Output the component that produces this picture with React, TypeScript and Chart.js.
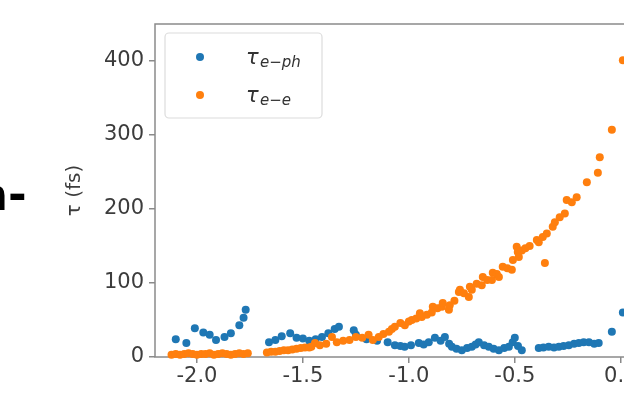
import React, { useEffect, useRef } from "react";
import { Chart, registerables } from "chart.js";

Chart.register(...registerables);

// ---- data ----
const X_TICKS = [-2.0, -1.5, -1.0, -0.5, 0.0];
const Y_TICKS = [0, 100, 200, 300, 400];

const EPH_X = [
  -2.1, -2.05, -2.01, -1.97, -1.94, -1.91, -1.87, -1.84, -1.8, -1.78, -1.77,
  -1.66, -1.63, -1.6, -1.56, -1.53, -1.5, -1.47, -1.44, -1.41, -1.38, -1.35, -1.33,
  -1.26, -1.25, -1.2, -1.15, -1.1, -1.066, -1.04, -1.02, -0.99, -0.953, -0.93,
  -0.906, -0.877, -0.85, -0.83, -0.81, -0.797, -0.775, -0.75, -0.725, -0.703,
  -0.685, -0.67, -0.645, -0.623, -0.6, -0.575, -0.55, -0.528, -0.51, -0.5,
  -0.485, -0.467, -0.387, -0.365, -0.34, -0.315, -0.292, -0.27, -0.245, -0.22,
  -0.198, -0.175, -0.15, -0.125, -0.104, -0.042, 0.01,
];
const EPH_Y = [
  24, 19, 39, 33, 30, 23, 27, 32, 43, 53, 64,
  20, 23, 28, 32, 26, 25, 22, 24, 27, 32, 38, 41,
  36, 30, 24, 22, 20, 16, 15, 14, 16, 19, 17,
  20, 26, 22, 27, 18, 14, 11, 9, 12, 14,
  17, 20, 16, 14, 11, 9, 12, 14, 20, 26,
  15, 9, 12, 13, 14, 13, 14, 15, 16, 18,
  19, 20, 20, 18, 19, 34, 60,
];

const EE_X = [
  -2.12, -2.1, -2.08, -2.06, -2.04, -2.02, -2.0, -1.98, -1.96, -1.94, -1.92, -1.9,
  -1.88, -1.86, -1.84, -1.82, -1.8, -1.78, -1.76,
  -1.67, -1.65, -1.63, -1.61, -1.59, -1.57, -1.55, -1.53, -1.51, -1.49, -1.47,
  -1.46, -1.443, -1.42, -1.39,
  -1.363, -1.34, -1.31, -1.28, -1.25, -1.22, -1.19, -1.17, -1.142, -1.12, -1.094,
  -1.08, -1.066, -1.04, -1.019, -1.0, -0.986, -0.965, -0.948, -0.939, -0.915,
  -0.892, -0.887, -0.865, -0.844, -0.84, -0.811, -0.807, -0.785, -0.764, -0.759,
  -0.74, -0.717, -0.712, -0.703, -0.68, -0.656, -0.651, -0.63, -0.608, -0.604,
  -0.585, -0.575, -0.557, -0.535, -0.514, -0.509, -0.491, -0.486, -0.481, -0.467,
  -0.45, -0.43, -0.396, -0.387, -0.368, -0.358, -0.349, -0.321, -0.311, -0.288,
  -0.264, -0.255, -0.231, -0.208, -0.16, -0.108, -0.099, -0.042, 0.01,
];
const EE_Y = [
  3, 4, 3, 4, 5, 4, 3, 4, 4, 5, 3, 4,
  5, 4, 3, 4, 5, 4, 5,
  6, 7, 7, 8, 9, 9, 10, 11, 12, 13, 13,
  14, 19, 16, 18,
  27, 20, 22, 23, 27, 26, 30, 23, 27, 31, 34,
  38, 41, 46, 43, 48, 50, 52, 59, 54, 57,
  60, 68, 66, 68, 73, 64, 70, 76, 88, 91,
  86, 81, 95, 91, 99, 97, 108, 104, 104, 114,
  112, 108, 122, 120, 118, 131, 149, 142, 135, 144,
  147, 150, 158, 155, 162, 127, 167, 176, 182, 189,
  194, 212, 209, 216, 236, 249, 270, 307, 401,
];

const LEGEND_MAIN = ["τ", "τ"];
const LEGEND_SUB = ["e−ph", "e−e"];
const Y_TITLE = "τ (fs)";
const SIDE_TEXT = "n-";

const BLUE = "#1f77b4";
const ORANGE = "#ff7f0e";

export default function App() {
  const ref = useRef<HTMLCanvasElement | null>(null);

  useEffect(() => {
    const canvas = ref.current;
    if (!canvas) return;
    const W = 700;
    const RIGHT_EDGE = 643;

    const framePlugin = {
      id: "frame",
      beforeDatasetsDraw(chart: any) {
        const { ctx, chartArea: a } = chart;
        ctx.save();
        ctx.strokeStyle = "#8a8a8a";
        ctx.lineWidth = 1.5;
        ctx.strokeRect(a.left, a.top, a.right - a.left, a.bottom - a.top);
        ctx.restore();
      },
    };

    const legendPlugin = {
      id: "mathLegend",
      afterDraw(chart: any) {
        const { ctx } = chart;
        ctx.save();
        const bx = 165, by = 33, bw = 157, bh = 85, r = 4;
        ctx.beginPath();
        ctx.moveTo(bx + r, by);
        ctx.arcTo(bx + bw, by, bx + bw, by + bh, r);
        ctx.arcTo(bx + bw, by + bh, bx, by + bh, r);
        ctx.arcTo(bx, by + bh, bx, by, r);
        ctx.arcTo(bx, by, bx + bw, by, r);
        ctx.closePath();
        ctx.fillStyle = "rgba(255,255,255,0.8)";
        ctx.fill();
        ctx.strokeStyle = "#dcdcdc";
        ctx.lineWidth = 1.2;
        ctx.stroke();

        const colors = [BLUE, ORANGE];
        const rows = [57, 95];
        for (let i = 0; i < 2; i++) {
          const y = rows[i];
          ctx.beginPath();
          ctx.arc(200, y, 4, 0, Math.PI * 2);
          ctx.fillStyle = colors[i];
          ctx.fill();
          ctx.fillStyle = "#333";
          ctx.textBaseline = "alphabetic";
          ctx.textAlign = "left";
          ctx.font = 'italic 21px "DejaVu Sans"';
          ctx.fillText(LEGEND_MAIN[i], 246, y + 7);
          ctx.font = 'italic 15px "DejaVu Sans"';
          ctx.fillText(LEGEND_SUB[i], 260, y + 10);
        }
        ctx.restore();
      },
    };

    const chart = new Chart(canvas, {
      type: "scatter",
      data: {
        datasets: [
          {
            label: LEGEND_MAIN[0] + LEGEND_SUB[0],
            data: EPH_X.map((x, i) => ({ x, y: EPH_Y[i] })),
            backgroundColor: BLUE,
            borderWidth: 0,
            pointRadius: 4,
            order: 1,
            clip: false as any,
          },
          {
            label: LEGEND_MAIN[1] + LEGEND_SUB[1],
            data: EE_X.map((x, i) => ({ x, y: EE_Y[i] })),
            backgroundColor: ORANGE,
            borderWidth: 0,
            pointRadius: 4,
            order: 0,
            clip: false as any,
          },
        ],
      },
      options: {
        animation: false,
        responsive: false,
        maintainAspectRatio: false,
        layout: { padding: { left: 0, top: 24, right: W - RIGHT_EDGE, bottom: 0 } },
        plugins: { legend: { display: false }, tooltip: { enabled: false } },
        scales: {
          x: {
            type: "linear",
            min: -2.198,
            max: 0.105,
            afterBuildTicks: (s: any) => {
              s.ticks = X_TICKS.map((v) => ({ value: v }));
            },
            afterFit: (s: any) => {
              s.height = 36;
            },
            ticks: {
              callback: (v: any) => Number(v).toFixed(1),
              font: { family: "DejaVu Sans", size: 21 },
              color: "#3c3c3c",
              padding: 1,
              maxRotation: 0,
              autoSkip: false,
            },
            grid: { drawOnChartArea: false, drawTicks: true, tickLength: 6, color: "#8a8a8a", lineWidth: 1.5 },
            border: { display: false },
          },
          y: {
            type: "linear",
            min: 0,
            max: 450,
            afterBuildTicks: (s: any) => {
              s.ticks = Y_TICKS.map((v) => ({ value: v }));
            },
            afterFit: (s: any) => {
              s.width = 155;
            },
            ticks: {
              callback: (v: any) => String(v),
              font: { family: "DejaVu Sans", size: 21 },
              color: "#3c3c3c",
              padding: 5,
              autoSkip: false,
            },
            grid: { drawOnChartArea: false, drawTicks: true, tickLength: 6, color: "#8a8a8a", lineWidth: 1.5 },
            border: { display: false },
            title: {
              display: true,
              text: Y_TITLE,
              font: { family: "DejaVu Sans", size: 20 },
              color: "#3c3c3c",
              padding: { top: 63, bottom: 0 },
            },
          },
        },
      },
      plugins: [framePlugin, legendPlugin],
    } as any);

    return () => chart.destroy();
  }, []);

  return (
    <div
      style={{
        position: "absolute",
        left: 0,
        top: 0,
        width: 624,
        height: 393,
        overflow: "hidden",
        background: "#fff",
      }}
    >
      <canvas
        ref={ref}
        width={700}
        height={393}
        style={{ position: "absolute", left: 0, top: 0, width: 700, height: 393, display: "block" }}
      />
      <span
        style={{
          position: "absolute",
          left: -24,
          top: 172,
          fontFamily: '"DejaVu Sans"',
          fontWeight: "bold",
          fontSize: 45,
          lineHeight: 1,
          color: "#000",
          whiteSpace: "nowrap",
        }}
      >
        {SIDE_TEXT}
      </span>
    </div>
  );
}
